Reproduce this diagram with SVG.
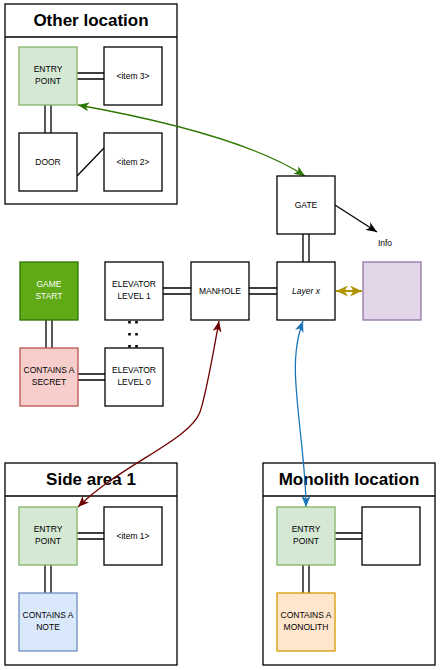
<svg xmlns="http://www.w3.org/2000/svg" width="443" height="670" viewBox="0 0 443 670">
<style>
.box{fill:#fff;stroke:#000;stroke-width:1.3}
.t{font-family:"Liberation Sans",Arial,Helvetica,sans-serif;font-size:8.5px;text-anchor:middle;fill:#000}
.h{font-size:17px;font-weight:bold}
.dl{stroke:#000;stroke-width:1.3;fill:none}
.green{fill:#d5e8d4;stroke:#82b366}
</style>
<defs>
<marker id="mg" viewBox="0 0 11 9" refX="11" refY="4.5" markerWidth="11" markerHeight="9" markerUnits="userSpaceOnUse" orient="auto-start-reverse"><path d="M0,0 L11,4.5 L0,9 L3,4.5 z" fill="#2d7600"/></marker>
<marker id="mr" viewBox="0 0 11 9" refX="11" refY="4.5" markerWidth="11" markerHeight="9" markerUnits="userSpaceOnUse" orient="auto-start-reverse"><path d="M0,0 L11,4.5 L0,9 L3,4.5 z" fill="#6f0000"/></marker>
<marker id="mb" viewBox="0 0 11 9" refX="11" refY="4.5" markerWidth="11" markerHeight="9" markerUnits="userSpaceOnUse" orient="auto-start-reverse"><path d="M0,0 L11,4.5 L0,9 L3,4.5 z" fill="#1a76b8"/></marker>
<marker id="mk" viewBox="0 0 11 9" refX="11" refY="4.5" markerWidth="11" markerHeight="9" markerUnits="userSpaceOnUse" orient="auto-start-reverse"><path d="M0,0 L11,4.5 L0,9 L3,4.5 z" fill="#000"/></marker>
<marker id="mo" viewBox="0 0 12 11" refX="12" refY="5.5" markerWidth="12" markerHeight="11" markerUnits="userSpaceOnUse" orient="auto-start-reverse"><path d="M0,0 L12,5.5 L0,11 L3.5,5.5 z" fill="#b09500"/></marker>
</defs>
<rect width="443" height="670" fill="#fff"/>

<g id="other-location">
<rect class="box" x="5" y="4" width="172" height="200"/>
<line class="dl" x1="5" y1="37" x2="177" y2="37"/>
<text class="t h" x="91" y="26">Other location</text>
</g>
<g id="side-area">
<rect class="box" x="5" y="463" width="172" height="202"/>
<line class="dl" x1="5" y1="496" x2="177" y2="496"/>
<text class="t h" x="91" y="485">Side area 1</text>
</g>
<g id="monolith-location">
<rect class="box" x="263" y="463" width="172" height="202"/>
<line class="dl" x1="263" y1="496" x2="435" y2="496"/>
<text class="t h" x="349" y="485">Monolith location</text>
</g>

<g id="connectors">
<path class="dl" d="M77,73 H104 M77,79 H104"/>
<path class="dl" d="M45,105 V133 M51,105 V133"/>
<line class="dl" x1="77" y1="176" x2="104" y2="148"/>
<path class="dl" d="M46,320 V348 M52,320 V348"/>
<path class="dl" d="M78,374 H105 M78,380 H105"/>
<path class="dl" d="M163,288 H191 M163,294 H191"/>
<path class="dl" d="M249,288 H277 M249,294 H277"/>
<path class="dl" d="M303,234 V262 M309,234 V262"/>
<path d="M129.5,321 V348 M136.5,321 V348" stroke="#000" stroke-width="2.6" stroke-dasharray="2.6 9.4" fill="none"/>
<path class="dl" d="M77,533 H104 M77,539 H104"/>
<path class="dl" d="M45,565 V593 M51,565 V593"/>
<path class="dl" d="M335,533 H362 M335,539 H362"/>
<path class="dl" d="M303,565 V593 M309,565 V593"/>
<path d="M78,105 C150,118 250,140 305,176" stroke="#2d7600" stroke-width="1.3" fill="none" marker-start="url(#mg)" marker-end="url(#mg)"/>
<path d="M219,321 C212,360 206,395 200,412 C190,440 120,465 78,507" stroke="#6f0000" stroke-width="1.3" fill="none" marker-start="url(#mr)" marker-end="url(#mr)"/>
<path d="M303,321 C296,340 294,360 296,385 C299,430 306,470 306,507" stroke="#1a76b8" stroke-width="1.3" fill="none" marker-start="url(#mb)" marker-end="url(#mb)"/>
<line x1="335" y1="205" x2="377" y2="232" stroke="#000" stroke-width="1.3" marker-end="url(#mk)"/>
<line x1="336" y1="291" x2="362" y2="291" stroke="#b09500" stroke-width="2" marker-start="url(#mo)" marker-end="url(#mo)"/>
</g>

<g id="entry-other"><rect class="box green" x="19" y="47" width="58" height="58"/><text class="t" x="48" y="72">ENTRY</text><text class="t" x="48" y="84">POINT</text></g>
<g id="item3"><rect class="box" x="104" y="47" width="58" height="58"/><text class="t" x="133" y="79">&lt;item 3&gt;</text></g>
<g id="door"><rect class="box" x="19" y="133" width="58" height="58"/><text class="t" x="48" y="165">DOOR</text></g>
<g id="item2"><rect class="box" x="104" y="133" width="58" height="58"/><text class="t" x="133" y="165">&lt;item 2&gt;</text></g>

<g id="gate"><rect class="box" x="277" y="176" width="58" height="58"/><text class="t" x="306" y="208">GATE</text></g>
<g id="info"><text class="t" x="385" y="246">Info</text></g>
<g id="game-start"><rect x="20" y="262" width="58" height="58" fill="#60a917" stroke="#2d7600" stroke-width="1.3"/><text class="t" x="49" y="287" style="fill:#fff">GAME</text><text class="t" x="49" y="299" style="fill:#fff">START</text></g>
<g id="elevator1"><rect class="box" x="105" y="262" width="58" height="58"/><text class="t" x="134" y="287">ELEVATOR</text><text class="t" x="134" y="299">LEVEL 1</text></g>
<g id="manhole"><rect class="box" x="191" y="262" width="58" height="58"/><text class="t" x="220" y="294">MANHOLE</text></g>
<g id="layer-x"><rect class="box" x="277" y="262" width="58" height="58"/><text class="t" x="306" y="294" font-style="italic">Layer x</text></g>
<g id="purple"><rect x="363" y="262" width="58" height="58" fill="#e1d5e7" stroke="#9673a6" stroke-width="1.3"/></g>
<g id="secret"><rect x="20" y="348" width="58" height="58" fill="#f8cecc" stroke="#b85450" stroke-width="1.3"/><text class="t" x="49" y="373">CONTAINS A</text><text class="t" x="49" y="385">SECRET</text></g>
<g id="elevator0"><rect class="box" x="105" y="348" width="58" height="58"/><text class="t" x="134" y="373">ELEVATOR</text><text class="t" x="134" y="385">LEVEL 0</text></g>

<g id="entry-side"><rect class="box green" x="19" y="507" width="58" height="58"/><text class="t" x="48" y="532">ENTRY</text><text class="t" x="48" y="544">POINT</text></g>
<g id="item1"><rect class="box" x="104" y="507" width="58" height="58"/><text class="t" x="133" y="539">&lt;item 1&gt;</text></g>
<g id="note"><rect x="19" y="593" width="58" height="58" fill="#dae8fc" stroke="#6c8ebf" stroke-width="1.3"/><text class="t" x="48" y="618">CONTAINS A</text><text class="t" x="48" y="630">NOTE</text></g>

<g id="entry-monolith"><rect class="box green" x="277" y="507" width="58" height="58"/><text class="t" x="306" y="532">ENTRY</text><text class="t" x="306" y="544">POINT</text></g>
<g id="empty"><rect class="box" x="362" y="507" width="58" height="58"/></g>
<g id="monolith"><rect x="277" y="593" width="58" height="58" fill="#ffe6cc" stroke="#d79b00" stroke-width="1.3"/><text class="t" x="306" y="618">CONTAINS A</text><text class="t" x="306" y="630">MONOLITH</text></g>
</svg>
